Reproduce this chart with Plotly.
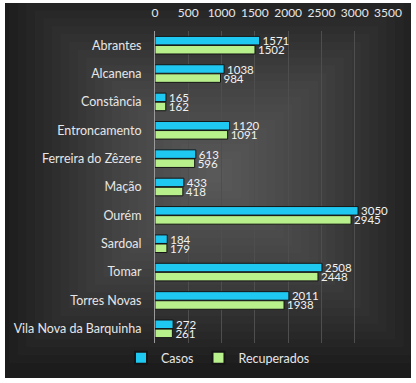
import plotly.graph_objects as go

categories = ["Abrantes", "Alcanena", "Constância", "Entroncamento", "Ferreira do Zêzere",
              "Mação", "Ourém", "Sardoal", "Tomar", "Torres Novas", "Vila Nova da Barquinha"]
casos = [1571, 1038, 165, 1120, 613, 433, 3050, 184, 2508, 2011, 272]
recuperados = [1502, 984, 162, 1091, 596, 418, 2945, 179, 2448, 1938, 261]
x_ticks = [0, 500, 1000, 1500, 2000, 2500, 3000, 3500]

W, H = 416, 383
font_family = "Lato, 'Open Sans', sans-serif"

fig = go.Figure()
fig.add_trace(go.Bar(
    name="Casos", y=categories, x=casos, orientation="h",
    marker=dict(color="#1ec8f0", line=dict(color="#151515", width=1)),
    text=[str(v) for v in casos], textposition="outside", cliponaxis=False,
    constraintext="none",
    textfont=dict(color="#f2f2f2", size=11.5, family=font_family),
))
fig.add_trace(go.Bar(
    name="Recuperados", y=categories, x=recuperados, orientation="h",
    marker=dict(color="#b8f08c", line=dict(color="#151515", width=1)),
    text=[str(v) for v in recuperados], textposition="outside", cliponaxis=False,
    constraintext="none",
    textfont=dict(color="#f2f2f2", size=11.5, family=font_family),
))

PL, PT, PW, PH = 155, 31, 233, 312

def px_rect(x0, y0, x1, y1):
    return dict(x0=(x0-PL)/PW, x1=(x1-PL)/PW, y0=(PT+PH-y1)/PH, y1=(PT+PH-y0)/PH)

base = px_rect(5, 3, 411, 378)
base.update(type="rect", xref="paper", yref="paper", layer="below",
            fillcolor="#1c1c1c", line=dict(width=0))
shapes = [base]
cx, cy = 215, 175
N = 24
for i in range(N):
    f = 1 - i / N
    hw, hh = 206 * f, 188 * f
    r = px_rect(cx - hw, cy - hh, cx + hw, cy + hh)
    r.update(type="rect", xref="paper", yref="paper", layer="below",
             fillcolor="rgba(255,255,255,0.014)", line=dict(width=0))
    shapes.append(r)

fig.update_layout(
    width=W, height=H,
    margin=dict(l=PL, r=W-PL-PW, t=PT, b=H-PT-PH, autoexpand=False),
    paper_bgcolor="white", plot_bgcolor="rgba(0,0,0,0)",
    barmode="group", bargap=0.36, bargroupgap=0.06,
    font=dict(family=font_family, color="#e6e6e6", size=12),
    shapes=shapes,
    showlegend=True,
    legend=dict(orientation="h", x=(121-PL)/PW, xanchor="left", xref="paper",
                y=-(358-PT-PH)/PH, yanchor="middle", font=dict(size=12.5, color="#e6e6e6"),
                bgcolor="rgba(0,0,0,0)", itemwidth=30, traceorder="normal",
                itemsizing="constant"),
    xaxis=dict(side="top", range=[0, 3500], tickvals=x_ticks, ticktext=[str(v) for v in x_ticks],
               showgrid=True, gridcolor="#4e4e4e", gridwidth=1, zeroline=False,
               tickfont=dict(size=12, color="#e6e6e6"), ticks="outside", ticklen=8,
               tickcolor="rgba(0,0,0,0)", automargin=False, fixedrange=True),
    yaxis=dict(autorange="reversed", showline=True, linecolor="#9a9a9a", linewidth=1,
               ticks="outside", ticklen=10, tickcolor="rgba(0,0,0,0)", automargin=False,
               tickfont=dict(size=12.5, color="#e6e6e6"), showgrid=False),
)
fig.write_html("out.html", config={"displayModeBar": False},
               post_script="document.body.style.margin='0px';")
